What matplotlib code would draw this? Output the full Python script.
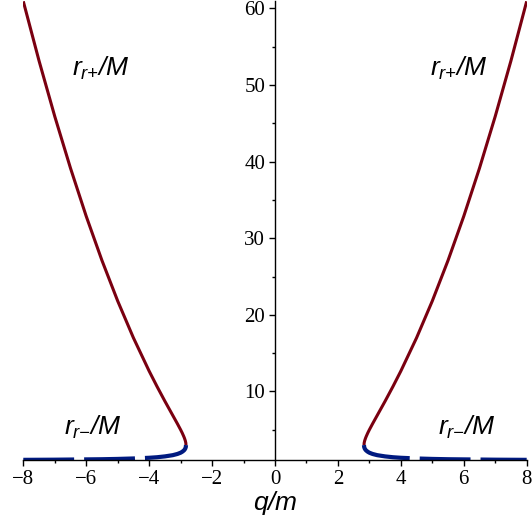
import numpy as np
import matplotlib.pyplot as plt

# q/m values (right branch; left branch is the mirror image)
q_vals = [2.8284, 2.835, 2.85, 2.875, 2.9, 2.95, 3.0, 3.1, 3.25, 3.5, 3.75,
          4.0, 4.5, 5.0, 5.5, 6.0, 6.5, 7.0, 7.5, 8.0]
# outer horizon r_{r+}/M
r_plus = [3.0, 3.29, 3.56, 3.87, 4.13, 4.59, 5.0, 5.77, 6.88, 8.73, 10.65,
          12.66, 17.0, 21.81, 27.10, 32.87, 39.15, 45.91, 53.17, 60.93]
# inner horizon r_{r-}/M
r_minus = [3.0, 2.75, 2.56, 2.39, 2.28, 2.12, 2.0, 1.84, 1.68, 1.52, 1.41,
           1.34, 1.25, 1.19, 1.15, 1.13, 1.11, 1.09, 1.08, 1.07]

red = '#7a0010'
blue = '#001a80'

plt.rcParams['mathtext.fontset'] = 'custom'
plt.rcParams['mathtext.it'] = 'Liberation Sans:italic'
plt.rcParams['mathtext.rm'] = 'Liberation Sans:italic'

fig = plt.figure(figsize=(5.32, 5.31), dpi=100)
ax = fig.add_axes([0.0438, 0.134, 0.9462, 0.8635])

q = np.array(q_vals)
rp = np.array(r_plus)
rm = np.array(r_minus)

# right branch
ax.plot(q, rp, color=red, lw=2.2, solid_capstyle='butt')
ax.plot(q, rm, color=blue, lw=3, dashes=(12.2, 2.4), dash_capstyle='butt')
# left branch (drawn from q=-8 inwards)
ax.plot(-q[::-1], rp[::-1], color=red, lw=2.2, solid_capstyle='butt')
ax.plot(-q[::-1], rm[::-1], color=blue, lw=3, dashes=(12.2, 2.4), dash_capstyle='butt')

ax.set_xlim(-8, 8)
ax.set_ylim(min(r_minus), max(r_plus))

ax.spines['right'].set_visible(False)
ax.spines['top'].set_visible(False)
ax.spines['left'].set_position(('data', 0))
for s in ['left', 'bottom']:
    ax.spines[s].set_linewidth(1.0)

ax.set_xticks(np.arange(-8, 9, 2))
ax.set_xticks(np.arange(-7, 8, 2), minor=True)
ax.set_yticks(np.arange(10, 61, 10))
ax.set_yticks(np.arange(5, 60, 10), minor=True)
ax.tick_params(which='major', length=4, width=1.0, labelsize=15, pad=3)
ax.tick_params(which='minor', length=2.5, width=1.0)
for lab in ax.get_xticklabels() + ax.get_yticklabels():
    lab.set_fontfamily('Liberation Serif')

ax.set_xlabel('$q/m$', fontsize=19, labelpad=0)

lbl = dict(fontsize=19, ha='center', va='center')
ax.text(-5.55, 52.2, r'$r_{r{+}}/M$', **lbl)
ax.text(5.85, 52.2, r'$r_{r{+}}/M$', **lbl)
ax.text(-5.8, 5.3, r'$r_{r{-}}/M$', **lbl)
ax.text(6.1, 5.3, r'$r_{r{-}}/M$', **lbl)

fig.savefig('out.png', dpi=100)
